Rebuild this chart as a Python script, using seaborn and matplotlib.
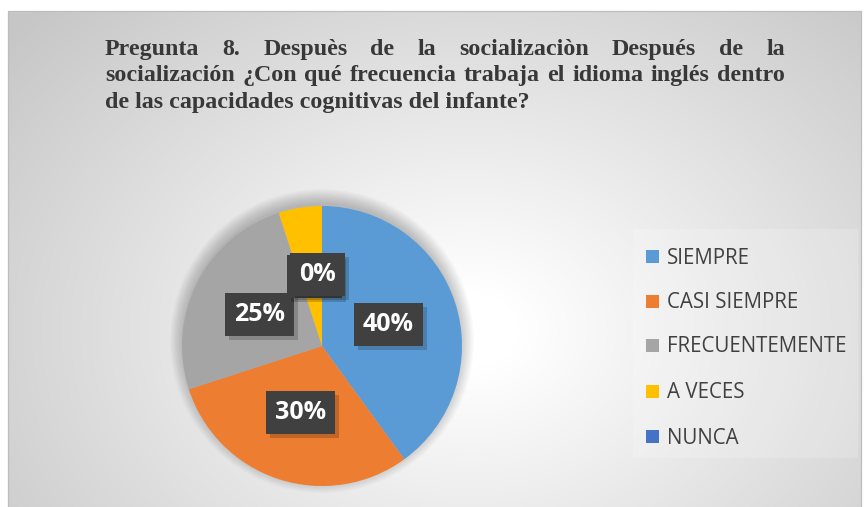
import numpy as np
import matplotlib
matplotlib.use("Agg")
import matplotlib.pyplot as plt
import matplotlib.patheffects as pe
from matplotlib.patches import Rectangle
import seaborn as sns

# ---- data ----
categories = ["SIEMPRE", "CASI SIEMPRE", "FRECUENTEMENTE", "A VECES", "NUNCA"]
percentages = [40, 30, 25, 5, 0]
slice_colors = ["#5B9BD5", "#ED7D31", "#A5A5A5", "#FFC000", "#4472C4"]
title_lines = [
    "Pregunta 8. Despuès de la socializaciòn Después de la",
    "socialización ¿Con qué frecuencia trabaja el idioma inglés dentro",
    "de las capacidades cognitivas del infante?",
]

sns.set_theme(style="white")
plt.rcParams["font.family"] = ["Open Sans", "DejaVu Sans"]

W, H, DPI = 864, 507, 100
fig = plt.figure(figsize=(W / DPI, H / DPI), dpi=DPI)
fig.patch.set_facecolor("white")


def fx(x):
    return x / W


def fy(y):
    return 1 - y / H


# ---- chart area background: radial grey gradient inside a framed box ----
bg = fig.add_axes([0, 0, 1, 1], zorder=0)
bg.set_axis_off()
yy, xx = np.mgrid[0:H, 0:W]
cx, cy, rx, ry = 470.0, 330.0, 427.0, 330.0
d = np.sqrt(((xx - cx) / rx) ** 2 + ((yy - cy) / ry) ** 2) / np.sqrt(2)
d = np.clip((d - 0.08) / 0.92, 0, 1)
shade = 255 - (255 - 198) * d
img = np.stack([shade, shade, shade], axis=-1) / 255.0
frame_l, frame_t, frame_r = 8, 11, 861
mask = (xx < frame_l) | (yy < frame_t) | (xx > frame_r)
img[mask] = 1.0
bg.imshow(img, extent=[0, W, H, 0], aspect="auto", interpolation="bilinear")
bg.set_xlim(0, W)
bg.set_ylim(H, 0)
bg.plot([frame_l, frame_l, frame_r, frame_r], [H, frame_t, frame_t, H],
        color="#bdbdbd", lw=0.9)

# lighter panel behind the legend
bg.add_patch(Rectangle((633, 229), 225, 229, facecolor="white", alpha=0.18,
                       edgecolor="none"))

# ---- title, justified like a word-processor paragraph ----
renderer = fig.canvas.get_renderer()
title_kw = dict(fontsize=17.3, fontweight="bold", color="#383838",
                family=["Liberation Serif", "DejaVu Serif"], va="baseline",
                ha="left", zorder=5)
left_px, right_px = 105, 785
baselines = [55, 81, 108]
for i, (line, base) in enumerate(zip(title_lines, baselines)):
    if i == len(title_lines) - 1:
        fig.text(fx(left_px), fy(base), line, **title_kw)
        continue
    words = line.split(" ")
    texts = [fig.text(0, fy(base), w, **title_kw) for w in words]
    widths = [t.get_window_extent(renderer).width for t in texts]
    gap = (right_px - left_px - sum(widths)) / (len(words) - 1)
    x = left_px
    for t, w in zip(texts, widths):
        t.set_x(fx(x))
        x += w + gap

# ---- soft shadow under the pie ----
pcx, pcy, pr = 322, 346, 140
shadow_ax = fig.add_axes([fx(pcx - 170), fy(pcy + 170 - 5), 340 / W, 340 / H], zorder=1)
shadow_ax.set_axis_off()
shadow_ax.set_xlim(-170, 170)
shadow_ax.set_ylim(-170, 170)
for r in np.linspace(pr + 12, pr - 2, 12):
    shadow_ax.add_patch(plt.Circle((0, 0), r, color="black", alpha=0.02, lw=0))

# ---- pie ----
ax = fig.add_axes([fx(pcx - pr), fy(pcy + pr), 2 * pr / W, 2 * pr / H], zorder=2)
wedges, _, autotexts = ax.pie(
    percentages,
    colors=sns.color_palette(slice_colors),
    startangle=90,
    counterclock=False,
    autopct="%1.0f%%",
    pctdistance=0.5,
    radius=1,
    wedgeprops=dict(linewidth=0),
)
ax.set_xlim(-1, 1)
ax.set_ylim(-1, 1)
ax.set_axis_off()

# the two small top labels sit on top of each other, "0%" in front
autotexts[4].set_position((-0.03, 0.51))
autotexts[3].set_position((-0.055, 0.50))

for t in autotexts:
    t.set_color("white")
    t.set_fontsize(18)
    t.set_fontweight("bold")
    t.set_bbox(dict(boxstyle="square,pad=0.36", facecolor="#404040",
                    edgecolor="none", linewidth=0))
    t.get_bbox_patch().set_path_effects([
        pe.SimplePatchShadow(offset=(3, -3), shadow_rgbFace="black", alpha=0.18),
        pe.Normal(),
    ])

# ---- legend ----
leg_rows = [256, 301, 345, 391, 436]
for name, wdg, yc in zip(categories, wedges, leg_rows):
    bg.add_patch(Rectangle((646, yc - 6.5), 13, 13,
                           facecolor=wdg.get_facecolor(), edgecolor="none"))
    bg.text(667, yc + 7.5, name, fontsize=14.8, color="#404040",
            ha="left", va="baseline")

fig.savefig("out.png", dpi=DPI)
